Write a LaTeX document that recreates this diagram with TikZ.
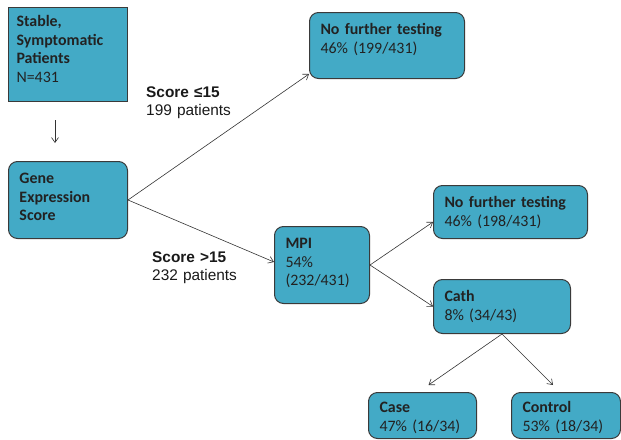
\documentclass[tikz,border=0pt]{standalone}
\usepackage{fontspec}
\newfontfamily\boxfont{Carlito}
\newfontfamily\labelfont{Liberation Sans}
\usepackage{tikz}
\usetikzlibrary{calc,arrows.meta,positioning}
\definecolor{boxfill}{HTML}{43AAC6}
\definecolor{boxline}{HTML}{3A3A3A}
\definecolor{boxtext}{HTML}{222222}

\begin{document}
\begin{tikzpicture}[x=1pt, y=-1pt,
        stepbox/.style={
            draw=boxline,
            line width=1pt,
            fill=boxfill,
            rounded corners=9pt,
            anchor=north west,
            align=left,
            inner xsep=11pt,
            inner ysep=0pt,
            text height=22pt,
            text=boxtext,
            font=\boxfont\fontsize{15.9}{18.5}\selectfont
        },
        flow/.style={-{Straight Barb[length=5pt,width=7pt]}, line width=0.6pt, draw=black!80},
        split/.style={anchor=base west, align=left, inner sep=0pt, text width=110pt, text=black!90, font=\labelfont\fontsize{15.4}{18}\selectfont}
    ]
        \useasboundingbox (0,0) rectangle (621,439);

        \node[stepbox, sharp corners, inner xsep=8pt, text height=19pt, text depth=75pt, text width=103pt] (stable) at (8,7) {\textbf{Stable,}\\\textbf{Symptomatic}\\\textbf{Patients}\\N=431};
        \node[stepbox, text depth=55pt, text width=97pt]  (gene)         at (8,161)   {\textbf{Gene}\\\textbf{Expression}\\\textbf{Score}};
        \node[stepbox, text depth=44pt, text width=133pt] (nofurther)    at (309,12)  {\textbf{No further testing}\\46\% (199/431)};
        \node[stepbox, text depth=55pt, text width=73pt]  (mpi)          at (274,226) {\textbf{MPI}\\54\%\\(232/431)};
        \node[stepbox, text depth=31pt, text width=132pt] (nofurthermpi) at (433,185) {\textbf{No further testing}\\46\% (198/431)};
        \node[stepbox, text depth=32pt, text width=115pt] (cath)         at (433,279) {\textbf{Cath}\\8\% (34/43)};
        \node[stepbox, text height=20pt, text depth=26pt, text width=86pt] (case)    at (368,392) {\textbf{Case}\\47\% (16/34)};
        \node[stepbox, text height=20pt, text depth=26pt, text width=87pt] (control) at (511,392) {\textbf{Control}\\53\% (18/34)};

        \node[split] (lowscore)  at (146,97)  {\textbf{Score ≤15}\\199 patients};
        \node[split] (highscore) at (152,262) {\textbf{Score >15}\\232 patients};

        \coordinate (downfrom) at (55,120);
        \coordinate (downto)   at (55,143);
        \draw[flow] (downfrom) -- (downto);

        \draw[flow] (gene.east) -- ($(nofurther.south west)+(0,-5)$);
        \draw[flow] (gene.east) -- ($(mpi.west)+(0,-3)$);
        \draw[flow] (mpi.east) -- ($(nofurthermpi.south west)+(0,-17)$);
        \draw[flow] (mpi.east) -- (cath.west);
        \draw[flow] (cath.south) -- ($(case.north)+(6,-7)$);
        \draw[flow] (cath.south) -- ($(control.north)+(-13,-7)$);
    \end{tikzpicture}
\end{document}
